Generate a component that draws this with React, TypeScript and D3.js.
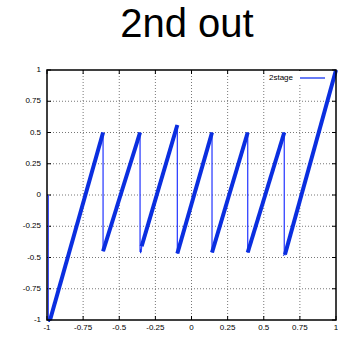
import React from "react";
import * as d3 from "d3";

const title = "2nd out";
const seriesName = "2stage";
const xTicks = [-1, -0.75, -0.5, -0.25, 0, 0.25, 0.5, 0.75, 1];
const yTicks = [-1, -0.75, -0.5, -0.25, 0, 0.25, 0.5, 0.75, 1];
const xs = [-0.991, -0.991, -0.979, -0.612, -0.612, -0.356, -0.356, -0.348, -0.345, -0.098, -0.098, 0.142, 0.142, 0.389, 0.389, 0.642, 0.642, 0.647, 1];
const ys = [0, -1, -1, 0.5, -0.45, 0.5, -0.45, -0.45, -0.41, 0.56, -0.468, 0.5, -0.46, 0.5, -0.46, 0.5, -0.47, -0.476, 1];

const W = 338, H = 338;
const L = 47, R = 336, T = 70, B = 320;

export default function App() {
  const x = d3.scaleLinear().domain([-1, 1]).range([L, R]);
  const y = d3.scaleLinear().domain([-1, 1]).range([B, T]);
  const pts: [number, number][] = xs.map((v, i) => [v, ys[i]]);
  const line = d3.line<[number, number]>().x(d => x(d[0])).y(d => y(d[1]));
  const segs = pts.slice(1).map((p, i) => [pts[i], p] as [number, number][]);
  const font = "'Liberation Sans', Arial, sans-serif";
  return (
    <svg width={W} height={H} style={{ position: "absolute", left: 0, top: 0, background: "#fff" }}>
      <text x={187} y={37} textAnchor="middle" fontFamily={font} fontSize={40} fill="#000">{title}</text>
      {xTicks.map((t, i) => (
        <g key={"xg" + i}>
          {t > -1 && t < 1 && <line x1={x(t)} x2={x(t)} y1={T} y2={B} stroke="#777" strokeWidth={1} strokeDasharray="1,2" />}
          <line x1={x(t)} x2={x(t)} y1={B} y2={B - 4} stroke="#000" />
          <line x1={x(t)} x2={x(t)} y1={T} y2={T + 4} stroke="#000" />
          <text x={x(t)} y={328} textAnchor="middle" dominantBaseline="middle" fontFamily={font} fontSize={8} fill="#000">{String(t)}</text>
        </g>
      ))}
      {yTicks.map((t, i) => (
        <g key={"yg" + i}>
          {t > -1 && t < 1 && <line x1={L} x2={R} y1={y(t)} y2={y(t)} stroke="#777" strokeWidth={1} strokeDasharray="1,2" />}
          <line x1={L} x2={L + 4} y1={y(t)} y2={y(t)} stroke="#000" />
          <line x1={R} x2={R - 4} y1={y(t)} y2={y(t)} stroke="#000" />
          <text x={41} y={y(t)} textAnchor="end" dominantBaseline="middle" fontFamily={font} fontSize={8} fill="#000">{String(t)}</text>
        </g>
      ))}
      <rect x={266} y={T + 1} width={R - 267} height={12} fill="#fff" />
      <text x={293} y={78} textAnchor="end" dominantBaseline="middle" fontFamily={font} fontSize={8} fill="#000">{seriesName}</text>
      <line x1={300} x2={325} y1={78} y2={78} stroke="#0022ee" strokeWidth={1.2} />
      <path d={line(pts) || ""} fill="none" stroke="#3344ff" strokeWidth={1.3} />
      {segs.map((s, i) => Math.abs(s[1][0] - s[0][0]) > 0.005 ? (
        <path key={"s" + i} d={line(s) || ""} fill="none" stroke="#0a2ee0" strokeWidth={4} strokeLinecap="butt" strokeLinejoin="round" />
      ) : null)}
      <rect x={L} y={T} width={R - L} height={B - T} fill="none" stroke="#000" strokeWidth={1.5} />
    </svg>
  );
}
